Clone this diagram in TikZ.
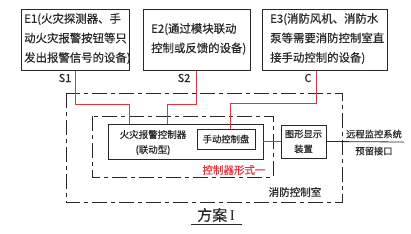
\documentclass[tikz,border=0pt]{standalone}
\usepackage{fontspec}
\setmainfont{Noto Sans CJK SC}[FakeBold=0.35]
\newfontfamily\serifnum{Liberation Serif}
\definecolor{lred}{RGB}{232,48,58}
\definecolor{ink}{RGB}{40,40,40}
\begin{document}
\begin{tikzpicture}[x=1pt,y=-1pt,
  ebox/.style={draw=ink,line width=0.9pt,minimum width=#1,minimum height=61pt,inner sep=0pt},
  ebox/.default=108pt,
  etext/.style={anchor=north west,align=left,inner sep=0pt,font=\fontsize{11.4}{19.5}\selectfont,text=ink},
  dbox/.style={draw=ink,line width=0.9pt,inner sep=0pt,align=center,font=\fontsize{9.3}{15}\selectfont,text=ink},
  redline/.style={draw=lred,line width=0.8pt},
  blackline/.style={draw=ink,line width=0.8pt},
  dashdot/.style={draw=ink,line width=0.9pt,dash pattern=on 15pt off 4pt on 4pt off 4pt},
  lbl/.style={font=\fontsize{11}{12}\selectfont,text=ink,inner sep=0pt}
]
\useasboundingbox (0,0) rectangle (411,233);
\fill[white] (0,0) rectangle (411,233);

% top equipment boxes
\node[ebox=108pt] (E1) at (75,40) {};
\node[ebox=107pt] (E2) at (196.5,40) {};
\node[ebox=125pt] (E3) at (324.5,40) {};
\node[etext] (t1) at (24,13) {E1(火灾探测器、手\\动火灾报警按钮等只\\发出报警信号的设备)};
\node[etext] (t2) at (151,23) {E2(通过模块联动\\控制或反馈的设备)};
\node[etext] (t3) at (270,13) {E3(消防风机、消防水\\泵等需要消防控制室直\\接手动控制的设备)};

% labels
\node[lbl] (s1) at (65,78) {S1};
\node[lbl] (s2) at (184,78) {S2};
\node[lbl] (c) at (308,78) {C};

% dashed frames
\draw[dashdot] (66,93) rectangle (342,202);
\draw[dashdot] (92,116) rectangle (273,177);

% devices
\node[dbox,minimum width=155pt,minimum height=35pt] (ctrl) at (185.5,141.5) {};
\node[font=\fontsize{9.5}{15}\selectfont,text=ink,align=center,inner sep=0pt] (ctrltext) at (153,142.5) {火灾报警控制器\\(联动型)};
\node[dbox,minimum width=58pt,minimum height=20pt] (manual) at (226,139) {手动控制盘};
\node[dbox,minimum width=45pt,minimum height=33pt] (disp) at (303.5,141.5) {图形显示\\装置};

% red connectors
\draw[redline] (E1.south) -- ++(0,33) -| ([xshift=-56.5pt]ctrl.north);
\draw[redline] (E2.south) -- ++(0,33) -| ([xshift=-18.5pt]ctrl.north);
\draw[redline] ([xshift=-8.5pt]E3.south) -- ++(0,32) -| (manual.north -| 230,0);
\draw[redline] (ctrl.east) -- (disp.west);

% remote interface
\coordinate (remote) at (404,142);
\draw[blackline] (disp.east) -- (remote);
\node[font=\fontsize{9.3}{10}\selectfont,text=ink,inner sep=0pt] (rt1) at (374,134) {远程监控系统};
\node[font=\fontsize{9.3}{10}\selectfont,text=ink,inner sep=0pt] (rt2) at (374,151) {预留接口};

% texts
\node[font=\fontsize{10.5}{11}\selectfont,text=lred,inner sep=0pt] (form) at (234,170) {控制器形式一};
\node[font=\fontsize{10.5}{11}\selectfont,text=ink,inner sep=0pt] (room) at (295,192) {消防控制室};
\node[font=\fontsize{15}{16}\selectfont,text=ink,inner sep=0pt] (title) at (216,215) {方案{\serifnum\,I}};
\draw[ink,line width=0.9pt] (191,224) -- (242,224);
\end{tikzpicture}
\end{document}
